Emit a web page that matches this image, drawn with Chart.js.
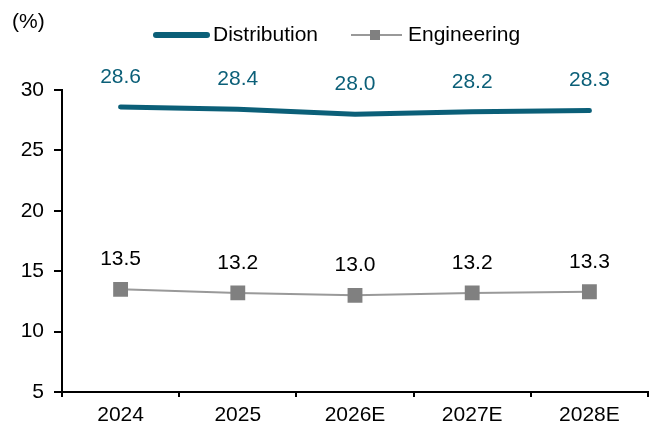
<!DOCTYPE html>
<html>
<head>
<meta charset="utf-8">
<script src="https://cdn.jsdelivr.net/npm/chart.js@4.4.0/dist/chart.umd.min.js"></script>
<style>
  html, body { margin: 0; padding: 0; background: #fff; }
  #wrap { width: 660px; height: 432px; }
</style>
</head>
<body>
<div id="wrap"><canvas id="chart" width="660" height="432"></canvas></div>
<script>
// ====== DATA ======
const years = ["2024", "2025", "2026E", "2027E", "2028E"];
const distribution = [28.6, 28.4, 28.0, 28.2, 28.3];
const engineering = [13.5, 13.2, 13.0, 13.2, 13.3];
const yTicks = [5, 10, 15, 20, 25, 30];

const TEAL = "#0b5f78";
const GRAY = "#808080";
const FONT = "'Liberation Sans', Arial, sans-serif";

// ====== LABEL & LEGENDA ======
const extras = {
  id: "extras",
  afterDatasetsDraw(chart) {
    const ctx = chart.ctx;
    ctx.save();
    ctx.font = "21px " + FONT;
    ctx.textAlign = "center";
    ctx.textBaseline = "middle";
    chart.data.datasets.forEach((ds, i) => {
      const meta = chart.getDatasetMeta(i);
      ctx.fillStyle = i === 0 ? TEAL : "#000";
      meta.data.forEach((pt, j) => {
        ctx.fillText(ds.data[j].toFixed(1), pt.x, pt.y - 30);
      });
    });

    // unit
    ctx.fillStyle = "#000";
    ctx.textAlign = "left";
    ctx.fillText("(%)", 12, 22);

    // legend
    const ly = 35;
    ctx.lineCap = "round";
    ctx.strokeStyle = TEAL;
    ctx.lineWidth = 6;
    ctx.beginPath();
    ctx.moveTo(156, ly);
    ctx.lineTo(207, ly);
    ctx.stroke();
    ctx.fillText("Distribution", 213, ly);

    ctx.lineCap = "butt";
    ctx.strokeStyle = "#999";
    ctx.lineWidth = 2;
    ctx.beginPath();
    ctx.moveTo(351, ly);
    ctx.lineTo(402, ly);
    ctx.stroke();
    ctx.fillStyle = GRAY;
    ctx.fillRect(370, ly - 5, 10, 10);
    ctx.fillStyle = "#000";
    ctx.fillText("Engineering", 408, ly);
    ctx.restore();
  },
};

// ====== GRAFIK ======
new Chart(document.getElementById("chart"), {
  type: "line",
  data: {
    labels: years,
    datasets: [
      {
        label: "Distribution",
        data: distribution,
        borderColor: TEAL,
        borderWidth: 5,
        borderCapStyle: "round",
        pointRadius: 0,
        tension: 0,
      },
      {
        label: "Engineering",
        data: engineering,
        borderColor: "#999",
        borderWidth: 2,
        pointStyle: "rect",
        pointRadius: 10.5,
        pointBorderWidth: 0,
        pointBackgroundColor: GRAY,
        pointBorderColor: GRAY,
        tension: 0,
      },
    ],
  },
  options: {
    responsive: false,
    animation: false,
    devicePixelRatio: 1,
    layout: { padding: { top: 90, right: 12, left: 0, bottom: 0 } },
    plugins: { legend: { display: false }, tooltip: { enabled: false } },
    scales: {
      x: {
        offset: true,
        grid: {
          display: true,
          offset: true,
          drawOnChartArea: false,
          drawTicks: true,
          tickLength: 5,
          color: "#000",
          lineWidth: 2,
        },
        border: { display: true, color: "#000", width: 2 },
        ticks: { color: "#000", font: { family: FONT, size: 21 }, padding: 6 },
        afterFit: (s) => { s.height = 40; },
      },
      y: {
        min: 5,
        max: 30,
        afterBuildTicks: (s) => { s.ticks = yTicks.map((v) => ({ value: v })); },
        grid: {
          display: true,
          drawOnChartArea: false,
          drawTicks: true,
          tickLength: 8,
          color: "#000",
          lineWidth: 2,
        },
        border: { display: true, color: "#000", width: 2 },
        ticks: { color: "#000", font: { family: FONT, size: 21 }, padding: 10 },
        afterFit: (s) => { s.width = 62; },
      },
    },
  },
  plugins: [extras],
});
</script>
</body>
</html>
